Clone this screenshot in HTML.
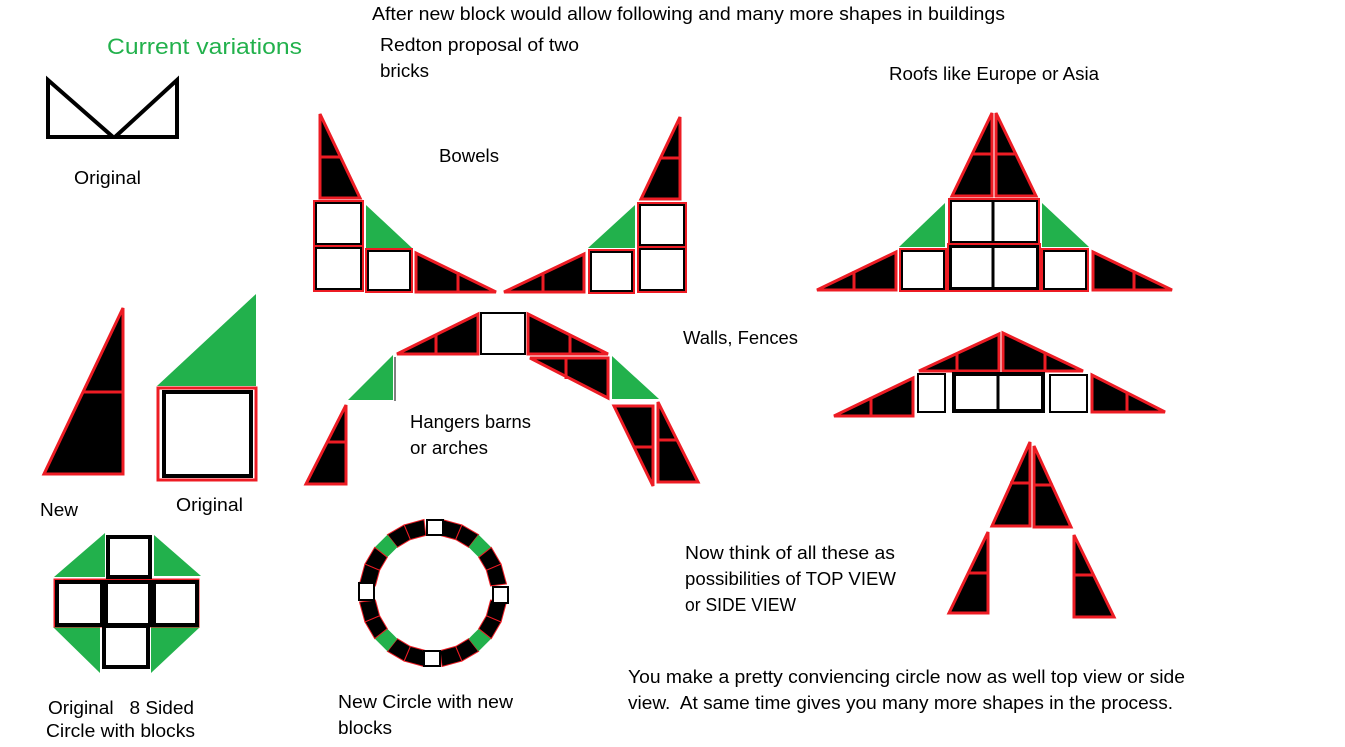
<!DOCTYPE html>
<html><head><meta charset="utf-8"><style>
html,body{margin:0;padding:0;background:#fff;}
svg{display:block;}
text{font-family:"Liberation Sans",sans-serif;font-size:18px;fill:#000;}
.t{fill:#000;stroke:#ed1c24;stroke-width:3;stroke-linejoin:miter;}
.m{stroke:#ed1c24;stroke-width:3;fill:none;}
.g{fill:#22b14c;}
.sq{fill:#fff;stroke:#000;stroke-width:4;}
.rq{fill:none;stroke:#ed1c24;stroke-width:2;}
.ct{fill:#000;stroke:#ed1c24;stroke-width:1;}
</style></head><body>
<svg width="1345" height="747" viewBox="0 0 1345 747" xmlns="http://www.w3.org/2000/svg">
<rect width="1345" height="747" fill="#fff"/>
<g lengthAdjust="spacingAndGlyphs">
<text x="372" y="20" textLength="633" lengthAdjust="spacingAndGlyphs">After new block would allow following and many more shapes in buildings</text>
<text x="107" y="54" style="font-size:22px;fill:#22b14c" textLength="195" lengthAdjust="spacingAndGlyphs">Current variations</text>
<text x="380" y="51" textLength="199" lengthAdjust="spacingAndGlyphs">Redton proposal of two</text>
<text x="380" y="77" textLength="49" lengthAdjust="spacingAndGlyphs">bricks</text>
<text x="889" y="80" textLength="210" lengthAdjust="spacingAndGlyphs">Roofs like Europe or Asia</text>
<text x="74" y="184" textLength="67" lengthAdjust="spacingAndGlyphs">Original</text>
<text x="439" y="162" textLength="60" lengthAdjust="spacingAndGlyphs">Bowels</text>
<text x="683" y="344" textLength="115" lengthAdjust="spacingAndGlyphs">Walls, Fences</text>
<text x="410" y="428" textLength="121" lengthAdjust="spacingAndGlyphs">Hangers barns</text>
<text x="410" y="454" textLength="78" lengthAdjust="spacingAndGlyphs">or arches</text>
<text x="40" y="516" textLength="38" lengthAdjust="spacingAndGlyphs">New</text>
<text x="176" y="511" textLength="67" lengthAdjust="spacingAndGlyphs">Original</text>
<text x="685" y="559" textLength="210" lengthAdjust="spacingAndGlyphs">Now think of all these as</text>
<text x="685" y="585" textLength="211" lengthAdjust="spacingAndGlyphs">possibilities of TOP VIEW</text>
<text x="685" y="611" textLength="111" lengthAdjust="spacingAndGlyphs">or SIDE VIEW</text>
<text x="628" y="683" textLength="557" lengthAdjust="spacingAndGlyphs">You make a pretty conviencing circle now as well top view or side</text>
<text x="628" y="709" textLength="545" lengthAdjust="spacingAndGlyphs" xml:space="preserve">view.  At same time gives you many more shapes in the process.</text>
<text x="48" y="714" textLength="146" lengthAdjust="spacingAndGlyphs" xml:space="preserve">Original   8 Sided</text>
<text x="46" y="737" textLength="149" lengthAdjust="spacingAndGlyphs">Circle with blocks</text>
<text x="338" y="708" textLength="175" lengthAdjust="spacingAndGlyphs">New Circle with new</text>
<text x="338" y="734" textLength="54" lengthAdjust="spacingAndGlyphs">blocks</text>
</g>

<polygon points="48,80 48,137 113,137" fill="none" stroke="#000" stroke-width="4"/>
<polygon points="177,80 177,137 115,137" fill="none" stroke="#000" stroke-width="4"/>

<polygon class="t" points="123,308 44,474 123,474"/>
<line class="m" x1="83" y1="392" x2="123" y2="392"/>
<polygon class="g" points="256,294 256,386 157,386"/>
<rect x="158" y="388" width="98" height="92" fill="none" stroke="#ed1c24" stroke-width="3"/>
<rect x="164" y="392" width="87" height="84" class="sq" stroke-width="5"/>

<polygon class="t" points="320,114 320,198 360,198"/>
<line class="m" x1="320" y1="157" x2="341" y2="157"/>
<rect x="315" y="202" width="47" height="43" class="sq"/><rect x="314" y="201" width="49" height="45" class="rq"/>
<rect x="315" y="247" width="47" height="43" class="sq"/><rect x="314" y="246" width="49" height="45" class="rq"/>
<polygon class="g" points="366,205 366,248 412,248"/>
<rect x="367" y="250" width="44" height="41" class="sq" stroke-width="3"/><rect x="366" y="249" width="46" height="43" class="rq"/>
<polygon class="t" points="416,253 416,292 496,292"/>
<line class="m" x1="458" y1="272" x2="458" y2="292"/>
<polygon class="t" points="504,292 584,254 584,292"/>
<line class="m" x1="543" y1="273" x2="543" y2="292"/>
<rect x="590" y="251" width="43" height="41" class="sq" stroke-width="3"/><rect x="589" y="250" width="45" height="43" class="rq"/>
<polygon class="g" points="588,248 635,205 635,248"/>
<rect x="639" y="204" width="46" height="42" class="sq"/><rect x="638" y="203" width="48" height="44" class="rq"/>
<rect x="639" y="248" width="46" height="43" class="sq"/><rect x="638" y="247" width="48" height="45" class="rq"/>
<polygon class="t" points="680,117 641,199 680,199"/>
<line class="m" x1="660" y1="158" x2="680" y2="158"/>

<polygon class="t" points="397,354 478,314 478,354"/>
<line class="m" x1="436" y1="334" x2="436" y2="354"/>
<rect x="481" y="313" width="44" height="41" fill="#fff" stroke="#000" stroke-width="2"/>
<polygon class="t" points="528,314 608,354 528,354"/>
<line class="m" x1="570" y1="335" x2="570" y2="354"/>
<polygon class="t" points="530,358 608,358 608,398"/>
<line class="m" x1="566" y1="358" x2="566" y2="379"/>
<polygon class="g" points="348,400 393,355 393,400"/>
<line x1="395" y1="357" x2="395" y2="401" stroke="#000" stroke-width="1"/>
<polygon class="g" points="612,356 659,399 612,399"/>
<polygon class="t" points="346,405 306,484 346,484"/>
<line class="m" x1="327" y1="442" x2="346" y2="442"/>
<polygon class="t" points="614,406 653,406 653,486"/>
<line class="m" x1="633" y1="447" x2="653" y2="447"/>
<polygon class="t" points="658,402 658,482 698,482"/>
<line class="m" x1="658" y1="440" x2="678" y2="440"/>

<polygon class="t" points="992,113 952,196 992,196"/>
<line class="m" x1="972" y1="154" x2="992" y2="154"/>
<polygon class="t" points="996,113 996,196 1036,196"/>
<line class="m" x1="996" y1="154" x2="1016" y2="154"/>
<rect x="950" y="200" width="88" height="43" class="sq"/><rect x="949" y="199" width="90" height="45" class="rq"/>
<line x1="993" y1="200" x2="993" y2="243" stroke="#000" stroke-width="3"/>
<rect x="950" y="246" width="88" height="43" class="sq"/><rect x="948" y="244" width="92" height="47" class="rq"/>
<line x1="993" y1="246" x2="993" y2="289" stroke="#000" stroke-width="3"/>
<polygon class="g" points="945,203 945,247 899,247"/>
<polygon class="g" points="1042,203 1042,247 1089,247"/>
<rect x="901" y="250" width="44" height="40" class="sq" stroke-width="3"/><rect x="900" y="249" width="46" height="42" class="rq"/>
<rect x="1043" y="250" width="44" height="40" class="sq" stroke-width="3"/><rect x="1042" y="249" width="46" height="42" class="rq"/>
<polygon class="t" points="817,290 896,252 896,290"/>
<line class="m" x1="854" y1="271" x2="854" y2="290"/>
<polygon class="t" points="1093,252 1172,290 1093,290"/>
<line class="m" x1="1134" y1="271" x2="1134" y2="290"/>

<polygon class="t" points="919,371 999,334 999,371"/>
<line class="m" x1="957" y1="353" x2="957" y2="371"/>
<polygon class="t" points="1003,333 1083,371 1003,371"/>
<line class="m" x1="1045" y1="352" x2="1045" y2="371"/>
<rect x="918" y="374" width="27" height="38" fill="#fff" stroke="#000" stroke-width="2"/>
<rect x="954" y="374" width="89" height="37" class="sq" stroke-width="3"/>
<line x1="998" y1="374" x2="998" y2="411" stroke="#000" stroke-width="3"/>
<rect x="1050" y="375" width="37" height="37" fill="#fff" stroke="#000" stroke-width="2"/>
<polygon class="t" points="834,416 913,378 913,416"/>
<line class="m" x1="871" y1="397" x2="871" y2="416"/>
<polygon class="t" points="1092,375 1165,412 1092,412"/>
<line class="m" x1="1127" y1="393" x2="1127" y2="412"/>

<polygon class="t" points="1030,442 992,526 1030,526"/>
<line class="m" x1="1010" y1="483" x2="1030" y2="483"/>
<polygon class="t" points="1034,446 1071,527 1034,527"/>
<line class="m" x1="1034" y1="485" x2="1053" y2="485"/>
<polygon class="t" points="988,532 949,613 988,613"/>
<line class="m" x1="969" y1="573" x2="988" y2="573"/>
<polygon class="t" points="1074,535 1074,617 1114,617"/>
<line class="m" x1="1074" y1="575" x2="1094" y2="575"/>

<polygon class="g" points="54,577 105,533 105,577"/>
<polygon class="g" points="154,535 201,576 154,576"/>
<polygon class="g" points="53,627 100,627 100,673"/>
<polygon class="g" points="151,627 200,627 151,673"/>
<rect x="55" y="580" width="143" height="46" fill="none" stroke="#ed1c24" stroke-width="3"/>
<rect x="108" y="537" width="42" height="40" class="sq"/>
<rect x="57" y="582" width="45" height="43" class="sq"/>
<rect x="106" y="582" width="44" height="43" class="sq"/>
<rect x="154" y="582" width="43" height="43" class="sq"/>
<rect x="104" y="626" width="44" height="41" class="sq"/>

<defs>
<g id="q">
<polygon class="ct" points="442,519.5 461.9,524.9 455.7,539.6 440.1,535.4"/>
<polygon class="ct" points="461.9,524.9 478.6,534.7 468.7,547.3 455.7,539.6"/>
<polygon class="g" points="478.6,534.7 491.3,547.4 478.7,557.3 468.7,547.3"/>
<polygon class="ct" points="491.3,547.4 501.1,564.1 486.4,570.3 478.7,557.3"/>
<polygon class="ct" points="501.1,564.1 506.5,584 490.6,585.9 486.4,570.3"/>
</g>
</defs>
<use href="#q"/>
<use href="#q" transform="translate(866,0) scale(-1,1)"/>
<use href="#q" transform="translate(0,1186) scale(1,-1)"/>
<use href="#q" transform="translate(866,1186) scale(-1,-1)"/>
<rect x="427" y="520" width="16" height="15" fill="#fff" stroke="#000" stroke-width="2"/>
<rect x="424" y="651" width="16" height="15" fill="#fff" stroke="#000" stroke-width="2"/>
<rect x="359" y="583" width="15" height="17" fill="#fff" stroke="#000" stroke-width="2"/>
<rect x="493" y="587" width="15" height="16" fill="#fff" stroke="#000" stroke-width="2"/>
</svg>
</body></html>
